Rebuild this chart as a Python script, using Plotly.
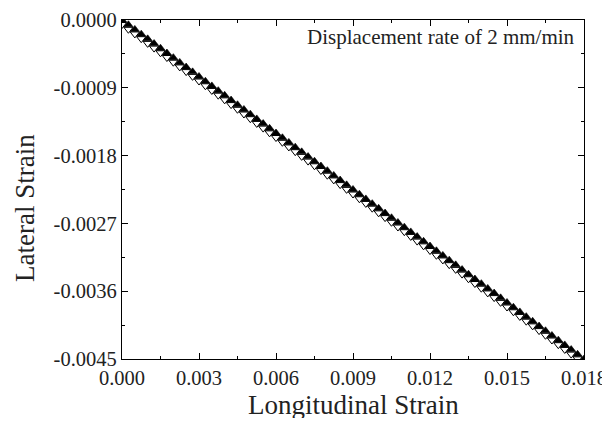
import plotly.graph_objects as go

longitudinal = [0.00000, 0.00025, 0.00050, 0.00075, 0.00100, 0.00125, 0.00150, 0.00175,
                0.00200, 0.00225, 0.00250, 0.00275, 0.00300, 0.00325, 0.00350, 0.00375,
                0.00400, 0.00425, 0.00450, 0.00475, 0.00500, 0.00525, 0.00550, 0.00575,
                0.00600, 0.00625, 0.00650, 0.00675, 0.00700, 0.00725, 0.00750, 0.00775,
                0.00800, 0.00825, 0.00850, 0.00875, 0.00900, 0.00925, 0.00950, 0.00975,
                0.01000, 0.01025, 0.01050, 0.01075, 0.01100, 0.01125, 0.01150, 0.01175,
                0.01200, 0.01225, 0.01250, 0.01275, 0.01300, 0.01325, 0.01350, 0.01375,
                0.01400, 0.01425, 0.01450, 0.01475, 0.01500, 0.01525, 0.01550, 0.01575,
                0.01600, 0.01625, 0.01650, 0.01675, 0.01700, 0.01725, 0.01750, 0.01775,
                0.01800]

lateral_filled = [0.000000, -0.000063, -0.000125, -0.000188, -0.000250, -0.000313, -0.000375, -0.000438,
                  -0.000500, -0.000563, -0.000625, -0.000688, -0.000750, -0.000813, -0.000875, -0.000938,
                  -0.001000, -0.001063, -0.001125, -0.001188, -0.001250, -0.001313, -0.001375, -0.001438,
                  -0.001500, -0.001563, -0.001625, -0.001688, -0.001750, -0.001813, -0.001875, -0.001938,
                  -0.002000, -0.002063, -0.002125, -0.002188, -0.002250, -0.002313, -0.002375, -0.002438,
                  -0.002500, -0.002563, -0.002625, -0.002688, -0.002750, -0.002813, -0.002875, -0.002938,
                  -0.003000, -0.003063, -0.003125, -0.003188, -0.003250, -0.003313, -0.003375, -0.003438,
                  -0.003500, -0.003563, -0.003625, -0.003688, -0.003750, -0.003813, -0.003875, -0.003938,
                  -0.004000, -0.004063, -0.004125, -0.004188, -0.004250, -0.004313, -0.004375, -0.004438,
                  -0.004500]

lateral_open = [-0.000060, -0.000123, -0.000185, -0.000248, -0.000310, -0.000373, -0.000435, -0.000498,
                -0.000560, -0.000623, -0.000685, -0.000748, -0.000810, -0.000873, -0.000935, -0.000998,
                -0.001060, -0.001123, -0.001185, -0.001248, -0.001310, -0.001373, -0.001435, -0.001498,
                -0.001560, -0.001623, -0.001685, -0.001748, -0.001810, -0.001873, -0.001935, -0.001998,
                -0.002060, -0.002123, -0.002185, -0.002248, -0.002310, -0.002373, -0.002435, -0.002498,
                -0.002560, -0.002623, -0.002685, -0.002748, -0.002810, -0.002873, -0.002935, -0.002998,
                -0.003060, -0.003123, -0.003185, -0.003248, -0.003310, -0.003373, -0.003435, -0.003498,
                -0.003560, -0.003623, -0.003685, -0.003748, -0.003810, -0.003873, -0.003935, -0.003998,
                -0.004060, -0.004123, -0.004185, -0.004248, -0.004310, -0.004373, -0.004435, -0.004498]

x_tickvals = [0.000, 0.003, 0.006, 0.009, 0.012, 0.015, 0.018]
x_ticktext = ["0.000", "0.003", "0.006", "0.009", "0.012", "0.015", "0.018"]
y_tickvals = [0.0, -0.0009, -0.0018, -0.0027, -0.0036, -0.0045]
y_ticktext = ["0.0000", "-0.0009", "-0.0018", "-0.0027", "-0.0036", "-0.0045"]

x_title = "Longitudinal Strain"
y_title = "Lateral Strain"
note = "Displacement rate of 2 mm/min"

FONT = "Liberation Serif"

fig = go.Figure()
fig.add_trace(go.Scatter(
    x=longitudinal[:len(lateral_open)], y=lateral_open, mode="markers",
    marker=dict(symbol="triangle-down", size=8, color="white",
                line=dict(color="black", width=1)),
    showlegend=False))
fig.add_trace(go.Scatter(
    x=longitudinal, y=lateral_filled, mode="markers",
    marker=dict(symbol="triangle-up", size=8, color="black",
                line=dict(color="black", width=0.6)),
    showlegend=False))

axis_common = dict(
    showline=True, linecolor="black", linewidth=1.2, mirror="ticks",
    ticks="inside", ticklen=6, tickwidth=1, tickcolor="black",
    showgrid=False, zeroline=False, automargin=False,
    tickfont=dict(family=FONT, size=20.5, color="#222"),
)

fig.update_xaxes(
    range=[0, 0.018], tickvals=x_tickvals, ticktext=x_ticktext,
    minor=dict(ticks="inside", ticklen=3, tickcolor="black", dtick=0.0015, tick0=0),
    **axis_common)
fig.update_yaxes(
    range=[-0.0045, 0.0], tickvals=y_tickvals, ticktext=y_ticktext,
    minor=dict(ticks="inside", ticklen=3, tickcolor="black", dtick=0.00045, tick0=0),
    **axis_common)

fig.add_annotation(
    text=note, xref="paper", yref="paper",
    x=0.985, y=0.99, xanchor="right", yanchor="top", showarrow=False,
    font=dict(family=FONT, size=21, color="#222"))

fig.add_annotation(
    text=x_title, xref="paper", yref="paper",
    x=0.5, y=0, yshift=-46, xanchor="center", yanchor="middle", showarrow=False,
    font=dict(family=FONT, size=27, color="#222"))

fig.add_annotation(
    text=y_title, xref="paper", yref="paper", textangle=-90,
    x=0, xshift=-97, y=0.4454, xanchor="center", yanchor="middle", showarrow=False,
    font=dict(family=FONT, size=27, color="#222"))

fig.update_layout(
    width=602, height=410,
    margin=dict(l=114, r=26, t=12, b=59, autoexpand=False),
    paper_bgcolor="white", plot_bgcolor="white",
)

fig.write_html("out.html")
